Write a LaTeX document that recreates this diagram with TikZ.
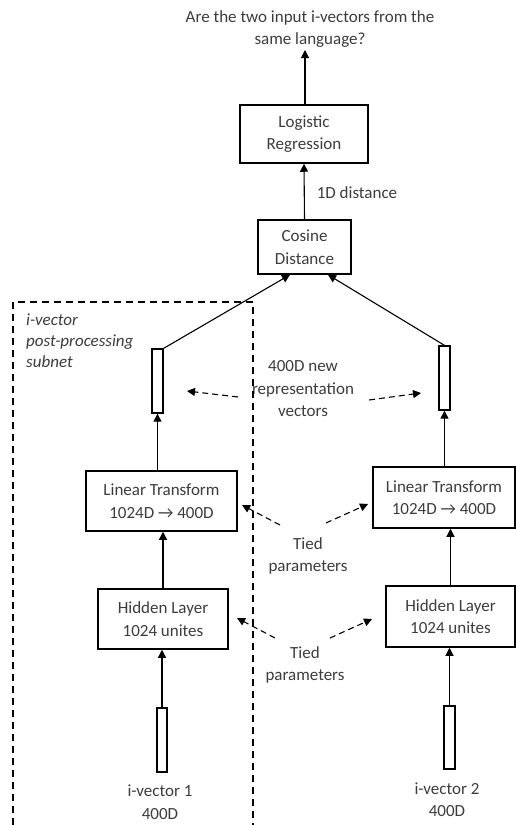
\documentclass[tikz,border=0pt]{standalone}
\usepackage{fontspec}
\setmainfont{Carlito}
\usetikzlibrary{arrows.meta,calc}
\definecolor{txt}{RGB}{60,60,60}
\begin{document}
\begin{tikzpicture}[x=1pt,y=-1pt,
  font=\fontsize{17pt}{22.5pt}\selectfont,
  box/.style={draw=black,text=txt,line width=1.5pt,inner sep=0pt,align=center},
  bar/.style={draw,line width=1.3pt,inner sep=0pt},
  lbl/.style={text=txt,inner sep=0pt,align=center},
  arr/.style={line width=1.1pt,-{Triangle[length=8pt,width=8pt]}},
  darr/.style={line width=1.1pt,dash pattern=on 6pt off 4pt,-{Triangle[length=8pt,width=8pt]}}]
\useasboundingbox (0,0) rectangle (516,825);
% title
\node[lbl] (title) at (310,29) {Are the two input i-vectors from the\\same language?};
% boxes
\node[box,minimum width=128pt,minimum height=58pt] (lr) at (304,134) {Logistic\\Regression};
\node[box,minimum width=93pt,minimum height=54pt] (cos) at (304.5,247) {Cosine\\Distance};
\node[bar,minimum width=11pt,minimum height=64pt] (lrep) at (157.5,381) {};
\node[bar,minimum width=11pt,minimum height=64pt] (rrep) at (444.5,378) {};
\node[box,minimum width=151pt,minimum height=60pt] (llt) at (161.5,501) {Linear Transform\\1024D \textrightarrow{} 400D};
\node[box,minimum width=142pt,minimum height=61pt] (rlt) at (444,497.5) {Linear Transform\\1024D \textrightarrow{} 400D};
\node[box,minimum width=130pt,minimum height=60pt] (lhl) at (163,619) {Hidden Layer\\1024 unites};
\node[box,minimum width=129pt,minimum height=61pt] (rhl) at (450.5,616.5) {Hidden Layer\\1024 unites};
\node[bar,minimum width=10pt,minimum height=64pt] (lin) at (162,740) {};
\node[bar,minimum width=11pt,minimum height=63pt] (rin) at (449.5,737.5) {};
% labels
\node[lbl] (dist) at (357,193) {1D distance};
\node[lbl,align=left,anchor=west,font=\fontsize{17pt}{21pt}\selectfont\itshape] (sub) at (26,341) {i-vector\\post-processing\\subnet};
\node[lbl] (rep) at (303,389) {400D new\\representation\\vectors};
\node[lbl] (tied1) at (308,556) {Tied\\parameters};
\node[lbl] (tied2) at (305,665) {Tied\\parameters};
\node[lbl] (iv1) at (160,802) {i-vector 1\\400D};
\node[lbl] (iv2) at (447,799.5) {i-vector 2\\400D};
% dashed subnet frame
\draw[line width=1.1pt,dash pattern=on 7pt off 5pt] (13,825) -- (13,302) -- (253,302) -- (253,825);
% solid arrows
\draw[arr] (lr.north -| 305,0) -- (305,50);
\draw[arr] (cos.north) -- (lr.south);
\draw[arr] (lrep.north east) -- ([xshift=-14.5pt]cos.south);
\draw[arr] (rrep.north) -- ([xshift=23.5pt]cos.south);
\draw[arr] (lrep.south |- llt.north) -- (lrep.south);
\draw[arr] (rrep.south |- rlt.north) -- (rrep.south);
\draw[arr] (lhl.north) -- (lhl.north |- llt.south);
\draw[arr] (rhl.north) -- (rhl.north |- rlt.south);
\draw[arr] (lin.north) -- (lin.north |- lhl.south);
\draw[arr] (rin.north) -- (rin.north |- rhl.south);
% dashed arrows
\coordinate (r1s) at (238,397); \coordinate (r1e) at (187,391);
\coordinate (r2s) at (369,400); \coordinate (r2e) at (421,393);
\coordinate (t1s) at (280,525); \coordinate (t1e) at (242,505);
\coordinate (t2s) at (326,523); \coordinate (t2e) at (368,504);
\coordinate (t3s) at (275,638); \coordinate (t3e) at (237,618);
\coordinate (t4s) at (330,638); \coordinate (t4e) at (372,619);
\draw[darr] (r1s) -- (r1e);
\draw[darr] (r2s) -- (r2e);
\draw[darr] (t1s) -- (t1e);
\draw[darr] (t2s) -- (t2e);
\draw[darr] (t3s) -- (t3e);
\draw[darr] (t4s) -- (t4e);
\end{tikzpicture}
\end{document}
